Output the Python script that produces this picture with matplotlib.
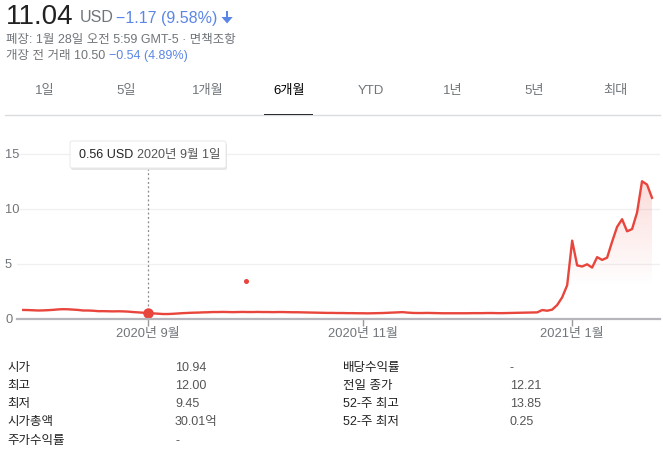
import matplotlib
matplotlib.use('Agg')
import matplotlib.pyplot as plt
import numpy as np
import pandas as pd
from matplotlib.patches import FancyBboxPatch, Rectangle, Polygon

plt.rcParams['font.family'] = ['Liberation Sans', 'Noto Sans CJK KR', 'DejaVu Sans']

# closing prices, one per trading day, 2020-07-28 .. 2021-01-27
prices_jul_aug = [0.85, 0.84, 0.82, 0.80, 0.81, 0.83, 0.86, 0.90, 0.92, 0.91, 0.88, 0.85, 0.80,
                  0.80, 0.78, 0.74, 0.74, 0.73, 0.72, 0.73, 0.72, 0.70, 0.66, 0.63, 0.60]
prices_sep = [0.56, 0.54, 0.51, 0.48, 0.48, 0.50, 0.53, 0.56, 0.58, 0.60, 0.61, 0.63, 0.64, 0.66,
              0.66, 0.67, 0.66, 0.65, 0.66, 0.67, 0.66]
prices_oct = [0.66, 0.67, 0.66, 0.66, 0.65, 0.66, 0.66, 0.65, 0.64, 0.64, 0.63, 0.62, 0.61, 0.60,
              0.59, 0.58, 0.58, 0.57, 0.57, 0.56, 0.56, 0.55]
prices_nov = [0.55, 0.54, 0.55, 0.56, 0.57, 0.59, 0.61, 0.63, 0.65, 0.61, 0.58, 0.57, 0.57, 0.58,
              0.57, 0.56, 0.55, 0.55, 0.55, 0.55]
prices_dec = [0.55, 0.55, 0.56, 0.56, 0.56, 0.57, 0.57, 0.56, 0.56, 0.57, 0.58, 0.59, 0.60, 0.61,
              0.62, 0.63, 0.84, 0.78, 0.88, 1.30, 2.00, 3.10]
prices_jan = [7.15, 4.90, 4.80, 5.00, 4.70, 5.65, 5.40, 5.60, 7.05, 8.40, 9.10, 8.00, 8.20, 9.70,
              12.55, 12.25, 11.04]
prices = prices_jul_aug + prices_sep + prices_oct + prices_nov + prices_dec + prices_jan

holidays = ['2020-09-07', '2020-11-26', '2020-12-25', '2021-01-01', '2021-01-18']
days = pd.bdate_range('2020-07-28', '2021-01-27', freq='C', holidays=holidays)

month_ticks = ['2020-09-01', '2020-11-02', '2021-01-04']
month_labels = ['2020년 9월', '2020년 11월', '2021년 1월']
y_ticks = [0, 5, 10, 15]

selected_day = '2020-09-01'
selected_label = '0.56 USD'
selected_date_label = '2020년 9월 1일'
stray_pos = 19.6     # trading-day position of the stray point
stray_value = 3.48

tabs = ['1일', '5일', '1개월', '6개월', 'YTD', '1년', '5년', '최대']
stat_labels_left = ['시가', '최고', '최저', '시가총액', '주가수익률']
stat_values_left = ['10.94', '12.00', '9.45', '30.01억', '-']
stat_labels_right = ['배당수익률', '전일 종가', '52-주 최고', '52-주 최저']
stat_values_right = ['-', '12.21', '13.85', '0.25']

RED = '#e8453c'
BLUE = '#5b86e5'
GRAY = '#70757a'
DARK = '#222222'

W, H = 663, 463
fig = plt.figure(figsize=(W / 100, H / 100), dpi=100)

# positions: trading day index, Sep 1 = 0
pos = {d: i for i, d in enumerate(days)}
x0 = pos[pd.Timestamp(selected_day)]
x = np.arange(len(prices)) - x0
y = np.array(prices)

ax = fig.add_axes([17 / W, 1 - 319.3 / H, 643 / W, 181.5 / H])

# gradient fill under the line
poly = ax.fill_between(x, y, 0, color='none', lw=0)
grad_y = np.linspace(0, 16.5, 256)
rgba = np.zeros((256, 1, 4))
rgba[..., :3] = matplotlib.colors.to_rgb(RED)
rgba[:, 0, 3] = np.clip((grad_y - 3) / 10, 0, 1) * 0.2
img = ax.imshow(rgba, extent=[x[0], x[-1], 0, 16.5], origin='lower', aspect='auto', zorder=1)
img.set_clip_path(poly.get_paths()[0], transform=ax.transData)
ax.set_xlim(-26.25, 102.6)
ax.set_ylim(0, 16.5)

ax.plot(x, y, color=RED, lw=1.7, zorder=3)

for v in y_ticks[1:]:
    ax.axhline(v, color='#f0f0f0', lw=1, zorder=0)

ax.vlines(0, 0, 13.66, color='#888888', lw=0.9, linestyles=(0, (1.5, 2)), zorder=2)
ax.plot(0, prices[x0], 'o', color=RED, ms=6.5, zorder=4)
ax.plot(stray_pos, stray_value, 'o', color=RED, ms=2.6, zorder=4)

for s in ['top', 'right', 'left']:
    ax.spines[s].set_visible(False)
ax.spines['bottom'].set_color('#b5b5bb')
ax.spines['bottom'].set_linewidth(1.6)
ax.spines['bottom'].set_zorder(5)

ax.set_xticks([pos[pd.Timestamp(d)] - x0 for d in month_ticks])
ax.set_xticklabels(month_labels, fontsize=9.3, color=GRAY)
ax.tick_params(axis='x', length=5, width=1, color='#999999', pad=1)
ax.set_yticks([])

# overlay in pixel coordinates for the page text
ov = fig.add_axes([0, 0, 1, 1], zorder=10)
ov.set_xlim(0, W)
ov.set_ylim(H, 0)
ov.axis('off')
ov.patch.set_alpha(0)

# y axis labels, left aligned at the page edge
for v in y_ticks:
    py = ax.transData.transform((0, v))[1]
    ov.text(5, H - py + 0.5, str(v), fontsize=9.3, color=GRAY, va='center', ha='left')

# tooltip
ov.add_patch(FancyBboxPatch((71, 143), 156, 27, boxstyle='round,pad=0,rounding_size=2',
                            fc='#d8d8d8', ec='none', alpha=0.6))
ov.add_patch(FancyBboxPatch((70, 141), 156, 27, boxstyle='round,pad=0,rounding_size=2',
                            fc='white', ec='#e6e6e6', lw=0.6))
ov.text(79, 155, selected_label, fontsize=9, color=DARK, va='center')
ov.text(137, 155, selected_date_label, fontsize=9, color='#555555', va='center')

# header
ov.text(6, 17, '11.04', fontsize=20, color=DARK, va='center')
ov.text(80, 18, 'USD', fontsize=11.5, color=GRAY, va='center')
ov.text(116, 18, '−1.17 (9.58%)', fontsize=11.5, color=BLUE, va='center')
# down arrow
ov.add_patch(Rectangle((225.8, 11), 2.6, 7, color=BLUE, lw=0))
ov.add_patch(Polygon([(221.5, 17), (232.7, 17), (227.1, 23.5)], closed=True, color=BLUE, lw=0))
ov.text(6, 40, '폐장: 1월 28일 오전 5:59 GMT-5 · 면책조항', fontsize=9, color=GRAY, va='center')
ov.text(6, 56, '개장 전 거래 10.50', fontsize=9, color=GRAY, va='center')
ov.text(109, 56, '−0.54 (4.89%)', fontsize=9, color=BLUE, va='center')

# range tabs
for i, t in enumerate(tabs):
    ov.text(45 + i * 81.5, 91, t, fontsize=9.5, ha='center', va='center',
            color='black' if t == '6개월' else GRAY)
ov.plot([5, 660], [115, 115], color='#dadce0', lw=1)
ov.add_patch(Rectangle((264, 113.5), 49, 2.5, color='black', lw=0))

# stats table
rows_y = [368, 386, 404, 422, 441]
for i, (l, v) in enumerate(zip(stat_labels_left, stat_values_left)):
    ov.text(7, rows_y[i], l, fontsize=9, color=DARK, va='center')
    ov.text(175, rows_y[i], v, fontsize=9, color='#555555', va='center')
for i, (l, v) in enumerate(zip(stat_labels_right, stat_values_right)):
    ov.text(343, rows_y[i], l, fontsize=9, color=DARK, va='center')
    ov.text(510, rows_y[i], v, fontsize=9, color='#555555', va='center')

fig.savefig('out.png', dpi=100)
